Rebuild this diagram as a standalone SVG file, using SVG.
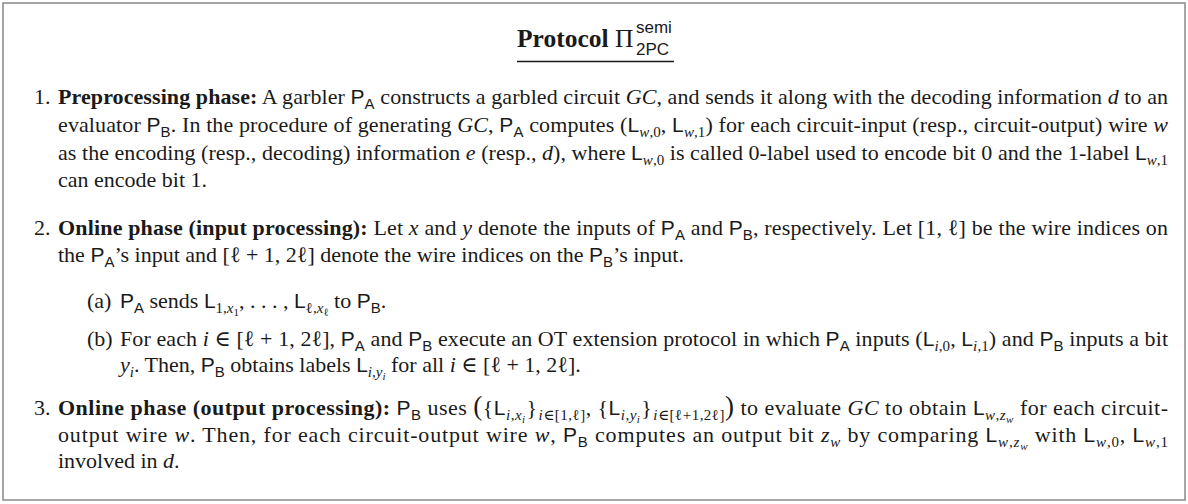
<svg xmlns="http://www.w3.org/2000/svg" width="1188" height="504" viewBox="0 0 1188 504">
<style>
text{font-family:"Liberation Serif","DejaVu Serif",serif;font-size:22px;fill:#1a1a1a}
.b{font-weight:bold}
.i{font-style:italic}
.s{font-family:"Liberation Sans","DejaVu Sans",sans-serif;font-size:21px}
.ss{font-family:"Liberation Sans","DejaVu Sans",sans-serif;font-size:15px}
.sb{font-size:15px}
.sbb{font-size:11px}
.big{font-size:27px}
</style>
<rect x="3" y="3" width="1182" height="497" fill="#fff" stroke="#888" stroke-width="1.5"/>
<g id="title">
<text x="517" y="47" style="font-size:25.5px"><tspan class="b">Protocol</tspan> Π</text>
<text class="ss" x="636" y="33" style="font-size:17px">semi</text>
<text class="ss" x="636" y="55" style="font-size:17px">2PC</text>
<line x1="517" y1="61.5" x2="674" y2="61.5" stroke="#1a1a1a" stroke-width="1.6"/>
</g>
<g id="item1">
<text x="34" y="104">1.</text>
<text x="58" y="104" textLength="1110" lengthAdjust="spacing"><tspan class="b">Preprocessing phase:</tspan> A garbler <tspan class="s">P</tspan><tspan class="ss" dy="5">A</tspan><tspan dy="-5"> constructs a garbled circuit </tspan><tspan class="i">GC</tspan>, and sends it along with the decoding information <tspan class="i">d</tspan> to an</text>
<text x="58" y="132" textLength="1110" lengthAdjust="spacing">evaluator <tspan class="s">P</tspan><tspan class="ss" dy="5">B</tspan><tspan dy="-5">. In the procedure of generating </tspan><tspan class="i">GC</tspan>, <tspan class="s">P</tspan><tspan class="ss" dy="5">A</tspan><tspan dy="-5"> computes (</tspan><tspan class="s">L</tspan><tspan class="sb i" dy="5">w</tspan><tspan class="sb">,0</tspan><tspan dy="-5">, </tspan><tspan class="s">L</tspan><tspan class="sb i" dy="5">w</tspan><tspan class="sb">,1</tspan><tspan dy="-5">) for each circuit-input (resp., circuit-output) wire </tspan><tspan class="i">w</tspan></text>
<text x="58" y="160" textLength="1110" lengthAdjust="spacing">as the encoding (resp., decoding) information <tspan class="i">e</tspan> (resp., <tspan class="i">d</tspan>), where <tspan class="s">L</tspan><tspan class="sb i" dy="5">w</tspan><tspan class="sb">,0</tspan><tspan dy="-5"> is called 0-label used to encode bit 0 and the 1-label </tspan><tspan class="s">L</tspan><tspan class="sb i" dy="5">w</tspan><tspan class="sb">,1</tspan></text>
<text x="58" y="187">can encode bit 1.</text>
</g>
<g id="item2">
<text x="34" y="235">2.</text>
<text x="58" y="235" textLength="1110" lengthAdjust="spacing"><tspan class="b">Online phase (input processing):</tspan> Let <tspan class="i">x</tspan> and <tspan class="i">y</tspan> denote the inputs of <tspan class="s">P</tspan><tspan class="ss" dy="5">A</tspan><tspan dy="-5"> and </tspan><tspan class="s">P</tspan><tspan class="ss" dy="5">B</tspan><tspan dy="-5">, respectively. Let [1, ℓ] be the wire indices on</tspan></text>
<text x="58" y="262">the <tspan class="s">P</tspan><tspan class="ss" dy="5">A</tspan><tspan dy="-5">’s input and [ℓ + 1, 2ℓ] denote the wire indices on the </tspan><tspan class="s">P</tspan><tspan class="ss" dy="5">B</tspan><tspan dy="-5">’s input.</tspan></text>
</g>
<g id="item2a">
<text x="87" y="308">(a)</text>
<text x="120" y="308"><tspan class="s">P</tspan><tspan class="ss" dy="5">A</tspan><tspan dy="-5"> sends </tspan><tspan class="s">L</tspan><tspan class="sb" dy="5">1,</tspan><tspan class="sb i">x</tspan><tspan class="sbb" dy="3">1</tspan><tspan dy="-8">, . . . , </tspan><tspan class="s">L</tspan><tspan class="sb" dy="5">ℓ,</tspan><tspan class="sb i">x</tspan><tspan class="sbb" dy="3">ℓ</tspan><tspan dy="-8"> to </tspan><tspan class="s">P</tspan><tspan class="ss" dy="5">B</tspan><tspan dy="-5">.</tspan></text>
</g>
<g id="item2b">
<text x="87" y="346">(b)</text>
<text x="120" y="346" textLength="1048" lengthAdjust="spacing">For each <tspan class="i">i</tspan> ∈ [ℓ + 1, 2ℓ], <tspan class="s">P</tspan><tspan class="ss" dy="5">A</tspan><tspan dy="-5"> and </tspan><tspan class="s">P</tspan><tspan class="ss" dy="5">B</tspan><tspan dy="-5"> execute an OT extension protocol in which </tspan><tspan class="s">P</tspan><tspan class="ss" dy="5">A</tspan><tspan dy="-5"> inputs (</tspan><tspan class="s">L</tspan><tspan class="sb i" dy="5">i</tspan><tspan class="sb">,0</tspan><tspan dy="-5">, </tspan><tspan class="s">L</tspan><tspan class="sb i" dy="5">i</tspan><tspan class="sb">,1</tspan><tspan dy="-5">) and </tspan><tspan class="s">P</tspan><tspan class="ss" dy="5">B</tspan><tspan dy="-5"> inputs a bit</tspan></text>
<text x="120" y="372"><tspan class="i">y</tspan><tspan class="sb i" dy="5">i</tspan><tspan dy="-5">. Then, </tspan><tspan class="s">P</tspan><tspan class="ss" dy="5">B</tspan><tspan dy="-5"> obtains labels </tspan><tspan class="s">L</tspan><tspan class="sb i" dy="5">i</tspan><tspan class="sb">,</tspan><tspan class="sb i">y</tspan><tspan class="sbb i" dy="3">i</tspan><tspan dy="-8"> for all </tspan><tspan class="i">i</tspan> ∈ [ℓ + 1, 2ℓ].</text>
</g>
<g id="item3">
<text x="34" y="415">3.</text>
<text x="58" y="415" textLength="1110" lengthAdjust="spacing"><tspan class="b">Online phase (output processing):</tspan> <tspan class="s">P</tspan><tspan class="ss" dy="5">B</tspan><tspan dy="-5"> uses </tspan><tspan class="big">(</tspan>{<tspan class="s">L</tspan><tspan class="sb i" dy="5">i</tspan><tspan class="sb">,</tspan><tspan class="sb i">x</tspan><tspan class="sbb i" dy="3">i</tspan><tspan dy="-8" dx="1">}</tspan><tspan class="sb i" dy="5" dx="1">i</tspan><tspan class="sb">∈[1,ℓ]</tspan><tspan dy="-5">, {</tspan><tspan class="s">L</tspan><tspan class="sb i" dy="5">i</tspan><tspan class="sb">,</tspan><tspan class="sb i">y</tspan><tspan class="sbb i" dy="3">i</tspan><tspan dy="-8" dx="1">}</tspan><tspan class="sb i" dy="5" dx="1">i</tspan><tspan class="sb">∈[ℓ+1,2ℓ]</tspan><tspan class="big" dy="-5">)</tspan> to evaluate <tspan class="i">GC</tspan> to obtain <tspan class="s">L</tspan><tspan class="sb i" dy="5">w</tspan><tspan class="sb">,</tspan><tspan class="sb i">z</tspan><tspan class="sbb i" dy="3">w</tspan><tspan dy="-8"> for each circuit-</tspan></text>
<text x="58" y="442" textLength="1110" lengthAdjust="spacing">output wire <tspan class="i">w</tspan>. Then, for each circuit-output wire <tspan class="i">w</tspan>, <tspan class="s">P</tspan><tspan class="ss" dy="5">B</tspan><tspan dy="-5"> computes an output bit </tspan><tspan class="i">z</tspan><tspan class="sb i" dy="5">w</tspan><tspan dy="-5"> by comparing </tspan><tspan class="s">L</tspan><tspan class="sb i" dy="5">w</tspan><tspan class="sb">,</tspan><tspan class="sb i">z</tspan><tspan class="sbb i" dy="3">w</tspan><tspan dy="-8"> with </tspan><tspan class="s">L</tspan><tspan class="sb i" dy="5">w</tspan><tspan class="sb">,0</tspan><tspan dy="-5">, </tspan><tspan class="s">L</tspan><tspan class="sb i" dy="5">w</tspan><tspan class="sb">,1</tspan></text>
<text x="58" y="468">involved in <tspan class="i">d</tspan>.</text>
</g>
</svg>
